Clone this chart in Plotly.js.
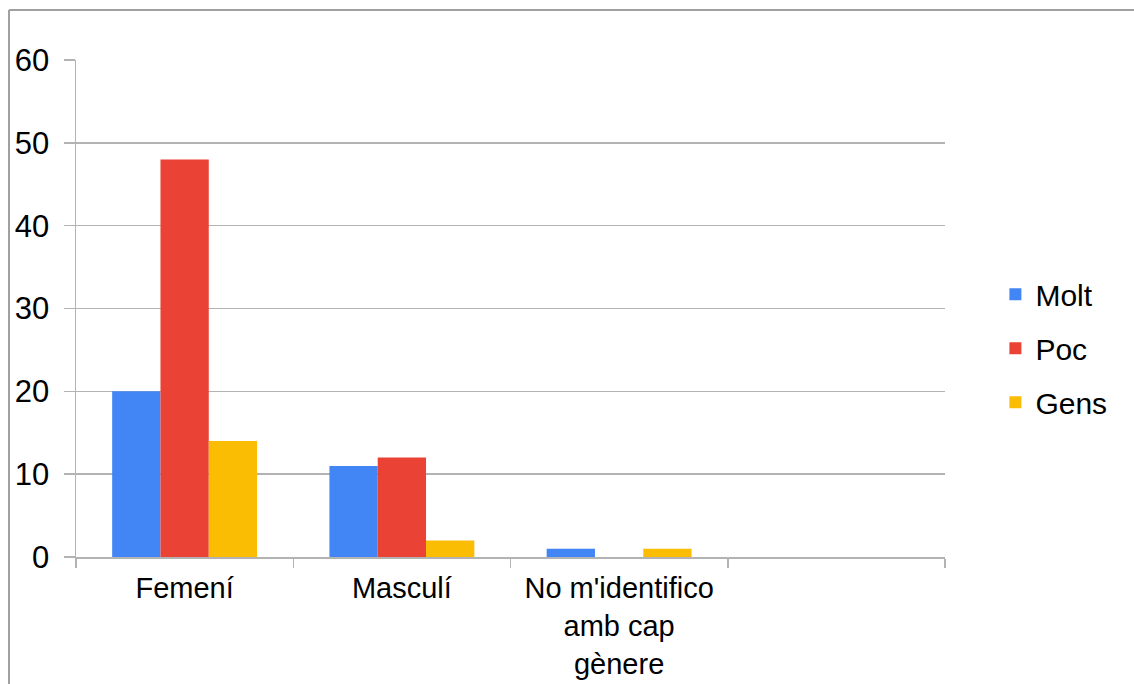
<!DOCTYPE html>
<html>
<head>
<meta charset="utf-8">
<script src="https://cdn.plot.ly/plotly-3.0.1.min.js"></script>
<style>html,body{margin:0;padding:0;background:#fff;}#chart{width:1134px;height:684px;}</style>
</head>
<body>
<div id="chart"></div>
<script>
const categories = ["Femení", "Masculí", "No m'identifico<br>amb cap<br>gènere", " "];
const molt = [20, 11, 1, null];
const poc = [48, 12, 0, null];
const gens = [14, 2, 1, null];
const seriesNames = ["Molt", "Poc", "Gens"];
const seriesColors = ["#4285F4", "#EA4335", "#FBBC04"];
const yTicks = [0, 10, 20, 30, 40, 50, 60];

const seriesValues = [molt, poc, gens];
const traces = seriesValues.map((vals, i) => ({
  type: "bar",
  name: seriesNames[i],
  x: categories,
  y: vals,
  marker: {color: seriesColors[i], line: {width: 0}},
  legendgroup: "g" + i,
  hoverinfo: "skip"
}));

const F = "Liberation Sans, Arial, sans-serif";
const grid = "#b3b3b3";
const border = "#a0a0a0";

const layout = {
  width: 1134, height: 684,
  margin: {l: 76, r: 189, t: 60, b: 127, pad: 0},
  paper_bgcolor: "#ffffff", plot_bgcolor: "#ffffff",
  font: {family: F, size: 30, color: "#000000"},
  barmode: "group", bargap: 0.333, bargroupgap: 0,
  showlegend: true,
  legend: {
    x: 1.058, xanchor: "left", y: 0.42, yanchor: "middle",
    traceorder: "grouped", tracegroupgap: 12,
    font: {family: F, size: 30, color: "#000000"},
    bgcolor: "rgba(0,0,0,0)", borderwidth: 0
  },
  xaxis: {
    type: "category", categoryorder: "array", categoryarray: categories,
    range: [-0.5, 3.5], tickson: "boundaries",
    ticks: "outside", ticklen: 9, tickwidth: 1.5, tickcolor: grid,
    showline: true, linecolor: grid, linewidth: 1.5,
    showgrid: false, zeroline: false,
    tickfont: {family: F, size: 29, color: "#000000"},
    ticklabelstandoff: 5,
    fixedrange: true
  },
  yaxis: {
    range: [0, 60], tickvals: yTicks, ticktext: yTicks.map(String),
    ticks: "outside", ticklen: 11, tickwidth: 1.5, tickcolor: grid,
    showgrid: true, gridcolor: grid, gridwidth: 1.5,
    showline: true, linecolor: grid, linewidth: 1.5,
    zeroline: false,
    tickfont: {family: F, size: 31, color: "#000000"},
    ticklabelstandoff: 8,
    fixedrange: true
  },
  shapes: [
    {type: "line", xref: "paper", yref: "paper", x0: -0.0771, x1: -0.0771, y0: 1.1006, y1: -0.26, line: {color: border, width: 2}},
    {type: "line", xref: "paper", yref: "paper", x0: -0.0771, x1: 1.22, y0: 1.1006, y1: 1.1006, line: {color: border, width: 2}}
  ]
};

Plotly.newPlot("chart", traces, layout, {displayModeBar: false, staticPlot: true});
</script>
</body>
</html>
